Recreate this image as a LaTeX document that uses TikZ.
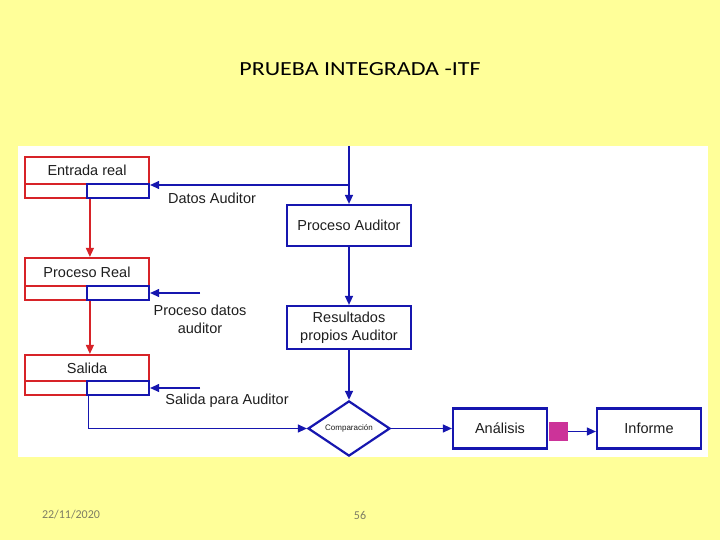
\documentclass[tikz,border=0pt]{standalone}
\usepackage{fontspec}
\setmainfont{Liberation Sans}
\newfontfamily\carlito{Carlito}
\usetikzlibrary{arrows.meta,shapes.geometric,calc}
\definecolor{bgyellow}{RGB}{255,255,153}
\definecolor{dblue}{RGB}{22,22,175}
\definecolor{dred}{RGB}{215,35,40}
\definecolor{magsq}{RGB}{204,51,153}
\definecolor{txt}{RGB}{30,30,30}
\definecolor{foot}{RGB}{125,125,100}
\tikzset{
  redtop/.style={draw=dred,line width=2.2pt,minimum width=124pt,inner sep=0pt,font=\fontsize{14.5}{16}\selectfont,text=txt},
  redcell/.style={draw=dred,line width=2.2pt,minimum width=62pt,minimum height=14pt,inner sep=0pt},
  bluecell/.style={draw=dblue,line width=2.2pt,minimum width=62pt,minimum height=14pt,inner sep=0pt},
  bluebox/.style={draw=dblue,line width=2.2pt,fill=white,inner sep=0pt,font=\fontsize{14.5}{17.5}\selectfont,text=txt,align=center},
  lbl/.style={font=\fontsize{14.5}{18}\selectfont,text=txt,align=center,inner sep=0pt},
  barrow/.style={draw=dblue,line width=1.1pt,-{Triangle[length=9pt,width=8pt]}},
  rarrow/.style={draw=dred,line width=1.2pt,-{Triangle[length=9pt,width=8pt]}},
}
\begin{document}
\begin{tikzpicture}[x=1pt,y=-1pt]
\fill[bgyellow] (0,0) rectangle (720,540);
\useasboundingbox (0,0) rectangle (720,540);
\fill[white] (18,146) rectangle (708,457);

% title and footer
\node[font=\carlito\fontsize{20}{24}\selectfont,text=black,xscale=1.2] (title) at (360,69) {PRUEBA INTEGRADA -ITF};
\node[font=\carlito\fontsize{12}{14}\selectfont,text=foot] (date) at (71,515) {22/11/2020};
\node[font=\carlito\fontsize{12}{14}\selectfont,text=foot] (page) at (360,515) {56};

% left column boxes
\node[redtop,minimum height=27pt] (ent) at (87,170.5) {Entrada real};
\node[redcell] (entL) at (56,191) {};
\node[bluecell] (entR) at (118,191) {};

\node[redtop,minimum height=28pt] (pr) at (87,272) {Proceso Real};
\node[redcell] (prL) at (56,293) {};
\node[bluecell] (prR) at (118,293) {};

\node[redtop,minimum height=26pt] (sal) at (87,368) {Salida};
\node[redcell] (salL) at (56,388) {};
\node[bluecell] (salR) at (118,388) {};

% right column boxes
\node[bluebox,minimum width=124pt,minimum height=41pt] (paud) at (349,225.5) {Proceso Auditor};
\node[bluebox,minimum width=124pt,minimum height=43pt] (res) at (349,327.5) {Resultados\\propios Auditor};
\node[diamond,draw=dblue,line width=2.2pt,fill=white,inner sep=0pt,minimum width=82pt,minimum height=41pt,font=\fontsize{8}{9}\selectfont,text=txt] (comp) at (349,428.5) {Comparación};
\node[bluebox,minimum width=94pt,minimum height=40pt] (ana) at (500,428.5) {Análisis};
\node[fill=magsq,minimum width=19pt,minimum height=19pt,inner sep=0pt] (mag) at (558.5,431.5) {};
\node[bluebox,minimum width=104pt,minimum height=40pt] (inf) at (649,428.5) {Informe};

% labels
\node[lbl] (ldat) at (212,198) {Datos Auditor};
\node[lbl] (lpd) at (200,319) {Proceso datos\\auditor};
\node[lbl] (lsal) at (227,401) {Salida para Auditor};

% connectors
\coordinate (topin) at (349,146);
\coordinate (jn) at (349,185);
\coordinate (pdS) at (200,293);
\coordinate (spS) at (200,388);

\draw[barrow,line width=1.4pt] (topin) -- (paud.north);
\draw[barrow] (jn) -- (jn -| entR.east);
\draw[barrow] (pdS) -- (pdS -| prR.east);
\draw[barrow] (spS) -- (spS -| salR.east);
\draw[barrow,line width=1.4pt] (paud.south) -- (res.north);
\draw[barrow,line width=1.4pt] (res.south) -- (comp.north);
\draw[barrow] ([xshift=3pt]salR.south west) |- (comp.west);
\draw[barrow] (comp.east) -- (comp.east -| ana.west);
\draw[barrow] (mag.east) -- (inf.west |- mag.east);

\draw[rarrow] ([xshift=4pt]entR.south west) -- ([xshift=4pt]prR.south west |- pr.north);
\draw[rarrow] ([xshift=4pt]prR.south west) -- ([xshift=4pt]salR.south west |- sal.north);
\end{tikzpicture}
\end{document}
